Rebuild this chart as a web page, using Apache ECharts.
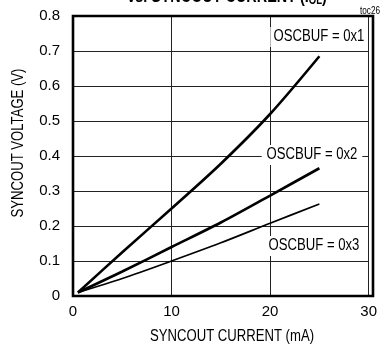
<!DOCTYPE html>
<html>
<head>
<meta charset="utf-8">
<script src="https://cdn.jsdelivr.net/npm/echarts@6/dist/echarts.min.js"></script>
<style>
html,body{margin:0;padding:0;background:#fff;}
#chart{width:380px;height:348px;}
</style>
</head>
<body>
<div id="chart"></div>
<script>
// SYNCOUT voltage vs. sink current for three OSCBUF settings
const currentMA = [0.5, 5, 10, 15, 20, 25];
const oscbuf1 = [0.01, 0.125, 0.25, 0.378, 0.52, 0.685];
const oscbuf2 = [0.01, 0.07, 0.14, 0.21, 0.287, 0.365];
const oscbuf3 = [0.01, 0.05, 0.10, 0.152, 0.208, 0.263];
const seriesNames = ['OSCBUF = 0x1', 'OSCBUF = 0x2', 'OSCBUF = 0x3'];
const xTicks = [0, 10, 20, 30];
const yTicks = [0, 0.1, 0.2, 0.3, 0.4, 0.5, 0.6, 0.7, 0.8];

const FONT = '"Liberation Sans", Arial, sans-serif';
const NARROW = 0.82; // horizontal squeeze for a condensed look
const chart = echarts.init(document.getElementById('chart'), null, {renderer: 'canvas'});

const pair = ys => currentMA.map((x, i) => [x, ys[i]]);
const lineSeries = (name, ys, w) => ({
  name, type: 'line', data: pair(ys), smooth: 0.3, symbol: 'none', z: 3,
  lineStyle: {color: '#000', width: w}
});

// condensed text drawn as a graphic element
const label = (text, x, y, opts = {}) => ({
  type: 'text', x, y, z: 10, rotation: opts.rotation || 0, scaleX: opts.scaleX || NARROW,
  style: Object.assign({text, align: 'center', verticalAlign: 'middle', fontFamily: FONT,
    fontSize: 16, fill: '#000'}, opts.style || {})
});

chart.setOption({
  animation: false,
  grid: {left: 73, right: 7, top: 16, bottom: 52, containLabel: false},
  xAxis: {
    type: 'value', min: 0, max: 30, interval: 10,
    axisLine: {show: false}, axisTick: {show: false},
    axisLabel: {fontFamily: FONT, fontSize: 15, color: '#000', margin: 8,
      formatter: v => xTicks.includes(v) ? String(v) : ''},
    splitLine: {show: true, lineStyle: {color: '#222', width: 1}}
  },
  yAxis: {
    type: 'value', min: 0, max: 0.8, interval: 0.1,
    axisLine: {show: false}, axisTick: {show: false},
    axisLabel: {fontFamily: FONT, fontSize: 15, color: '#000', margin: 13,
      formatter: v => { const t = yTicks.find(k => Math.abs(k - v) < 1e-6); return t === undefined ? '' : (t === 0 ? '0' : t.toFixed(1)); }},
    splitLine: {show: true, lineStyle: {color: '#222', width: 1}}
  },
  series: [
    lineSeries(seriesNames[0], oscbuf1, 2.6),
    lineSeries(seriesNames[1], oscbuf2, 2.6),
    lineSeries(seriesNames[2], oscbuf3, 1.7)
  ],
  graphic: [
    {type: 'rect', shape: {x: 73, y: 16, width: 300, height: 280}, z: 10,
      style: {fill: 'none', stroke: '#000', lineWidth: 2.6}},
    label('{b|vs. SYNCOUT CURRENT (I}{s|OL}{b|)}', 227, 7, {scaleX: 0.8, style: {verticalAlign: 'bottom',
      rich: {b: {fontFamily: FONT, fontSize: 18, fontWeight: 'bold', fill: '#000'},
             s: {fontFamily: FONT, fontSize: 12, fontWeight: 'bold', fill: '#000', padding: [8, 0, 0, 0]}}}}),
    label('toc26', 370, 11, {style: {fontSize: 10}}),
    label('SYNCOUT CURRENT (mA)', 232, 337),
    label('SYNCOUT VOLTAGE (V)', 19, 143, {rotation: Math.PI / 2}),
    label(seriesNames[0], 319, 37, {style: {backgroundColor: '#fff', padding: [2, 4]}}),
    label(seriesNames[1], 312, 155, {style: {backgroundColor: '#fff', padding: [2, 6]}}),
    label(seriesNames[2], 314, 246, {style: {backgroundColor: '#fff', padding: [2, 4]}})
  ]
});
</script>
</body>
</html>
